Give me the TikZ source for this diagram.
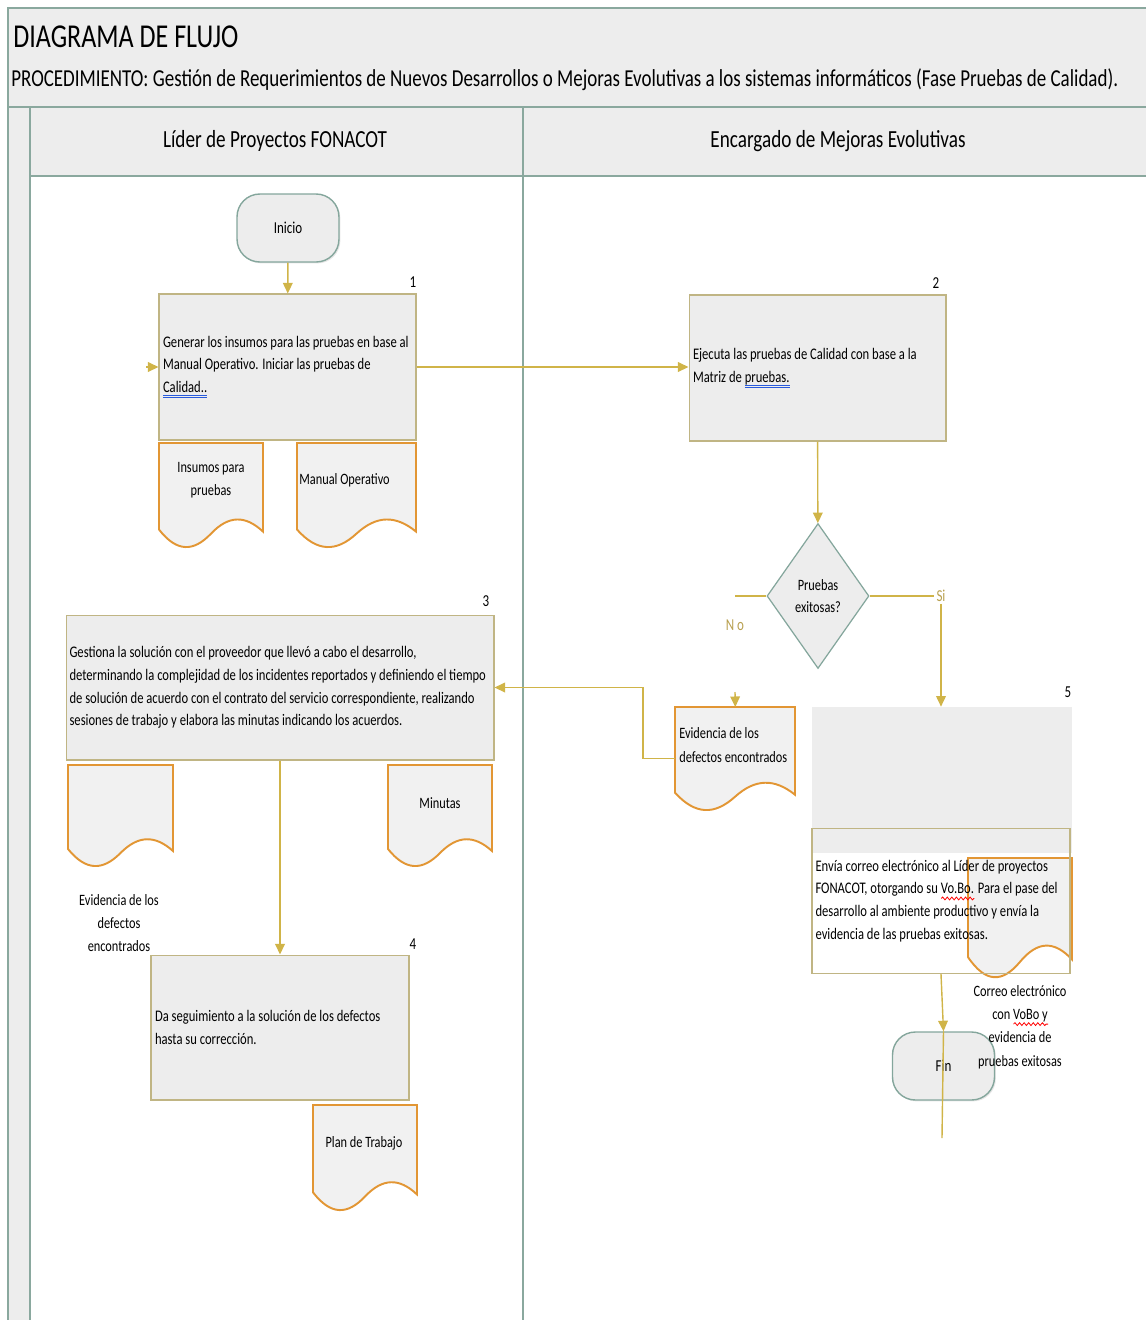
\documentclass[tikz,border=0pt]{standalone}
\usepackage{fontspec}
\setmainfont[FakeStretch=0.78]{Carlito}
\usepackage{xcolor}
\usepackage{tikz}
\usetikzlibrary{
  arrows.meta,
  shapes.geometric,
  shadows,
  decorations.pathmorphing
}

\definecolor{marco}{RGB}{138,168,158}
\definecolor{gris}{RGB}{237,237,237}
\definecolor{flujo}{RGB}{208,180,72}
\definecolor{pasoborde}{RGB}{192,181,132}
\definecolor{hojaborde}{RGB}{226,150,52}
\definecolor{terminalborde}{RGB}{132,166,156}
\definecolor{etiqueta}{RGB}{184,160,80}
\definecolor{azulvinc}{RGB}{40,90,220}

% subrayado doble azul (hipervínculo) y ondulado rojo (ortografía)
\newcommand{\vinculo}[1]{\leavevmode\setbox0=\hbox{#1}\rlap{\textcolor{azulvinc}{\rule[-2pt]{\wd0}{0.45pt}}}\rlap{\textcolor{azulvinc}{\rule[-3.1pt]{\wd0}{0.45pt}}}\box0}
\newdimen\anchoorto
\newcommand{\ortografia}[1]{\leavevmode\settowidth{\anchoorto}{#1}\rlap{\tikz[baseline=0pt, x=1pt, y=1pt]
  \draw[red, line width=0.45pt, decorate, decoration={snake, amplitude=0.8pt, segment length=2.6pt}]
  (0,-2.6) -- (\anchoorto,-2.6);}#1}
% espacios naturales de la fuente dentro de los recuadros
\newcommand{\espacio}{\spaceskip=0pt\xspaceskip=0pt\relax}

\newcommand{\pasofont}{\fontsize{9.2}{13}\selectfont}

% hoja de documento con borde ondulado: nombre, x, y, ancho, alto
\newcommand{\hoja}[5]{%
  \node[hojamarco, minimum width=#4*0.02cm, minimum height=#5*0.02cm, anchor=north west] (#1) at (#2,#3) {};
  \filldraw[hojalinea] (#2,#3) -- (#2,#3+0.84*#5)
    .. controls (#2+0.17*#4,#3+1.06*#5) and (#2+0.33*#4,#3+1.06*#5) .. (#2+0.5*#4,#3+0.88*#5)
    .. controls (#2+0.67*#4,#3+0.70*#5) and (#2+0.83*#4,#3+0.70*#5) .. (#2+#4,#3+0.86*#5)
    -- (#2+#4,#3) -- cycle;
}

\tikzset{
  marcolinea/.style={draw=marco, line width=0.75pt},
  terminal/.style={rectangle, rounded corners=13pt, draw=terminalborde, line width=0.8pt,
    fill=gris, minimum width=2.04cm, minimum height=1.36cm, font=\fontsize{9.5}{12}\selectfont,
    drop shadow={shadow xshift=0.8pt, shadow yshift=-0.8pt, opacity=0.2}},
  paso/.style={rectangle, draw=pasoborde, line width=0.6pt, fill=gris, align=left,
    inner xsep=2pt, font=\pasofont,
    drop shadow={shadow xshift=0.8pt, shadow yshift=-0.8pt, opacity=0.2}},
  decision/.style={diamond, draw=terminalborde, line width=0.7pt, fill=gris, aspect=0.7,
    inner sep=0pt, minimum width=2.04cm, minimum height=2.9cm, align=center,
    font=\fontsize{9}{12.5}\selectfont},
  hojamarco/.style={rectangle, draw=none, inner sep=0pt},
  hojalinea/.style={draw=hojaborde, line width=1.1pt, fill=gris!80!white},
  texto/.style={inner sep=0pt, font=\fontsize{9}{13.3}\selectfont},
  numero/.style={inner sep=0pt, font=\fontsize{9.5}{12}\selectfont},
  flujo/.style={draw=flujo, line width=0.8pt, -{Triangle[width=5.5pt,length=6pt]}},
  flujosin/.style={draw=flujo, line width=0.8pt},
  rama/.style={inner sep=1pt, text=etiqueta, font=\fontsize{9.5}{12}\selectfont}
}

\begin{document}
\begin{tikzpicture}[x=0.02cm, y=-0.02cm]
    \useasboundingbox (0,0) rectangle (1146,1320);

    % 1. Encabezado y carriles
    \fill[gris] (8,8) rectangle (1146,107);
    \fill[gris] (30,107) rectangle (1146,176);
    \fill[gris] (8,107) rectangle (30,1320);
    \draw[marcolinea] (1146,8) -- (8,8) -- (8,1320);
    \draw[marcolinea] (8,107) -- (1146,107);
    \draw[marcolinea] (30,176) -- (1146,176);
    \draw[marcolinea] (30,107) -- (30,1320);
    \draw[marcolinea] (523,107) -- (523,1320);

    \node[anchor=west, inner sep=0pt, font=\fontsize{19}{22}\selectfont] (titulo) at (13,37) {DIAGRAMA DE FLUJO};
    \node[anchor=west, inner sep=0pt, font=\fontsize{13.85}{16}\selectfont] (procedimiento) at (11,80)
        {PROCEDIMIENTO: Gestión de Requerimientos de Nuevos Desarrollos o Mejoras Evolutivas a los sistemas informáticos (Fase Pruebas de Calidad).};
    \node[inner sep=0pt, font=\fontsize{14}{17}\selectfont] (carril1) at (275,141) {Líder de Proyectos FONACOT};
    \node[inner sep=0pt, font=\fontsize{14}{17}\selectfont] (carril2) at (838,141) {Encargado de Mejoras Evolutivas};

    % 2. Documentos (se dibujan antes que el texto)
    \hoja{insumos}{159}{443}{104}{103}
    \hoja{manual}{297}{443}{119}{103}
    \hoja{evidvacia}{68}{765}{105}{100}
    \hoja{minutas}{388}{765}{104}{100}
    \hoja{evid}{675}{707}{120}{102}
    \hoja{plan}{313}{1105}{104}{104}

    % 3. Actividades
    \node[terminal] (inicio) at (288,228) {Inicio};

    \node[paso, minimum width=5.14cm, minimum height=2.92cm, text width=4.98cm] (paso1) at (287.5,367)
        {\espacio Generar los insumos para las pruebas en base al\\Manual Operativo. Iniciar las pruebas de\\\vinculo{Calidad..}};
    \node[paso, minimum width=5.14cm, minimum height=2.92cm, text width=4.98cm] (paso2) at (817.5,368)
        {\espacio Ejecuta las pruebas de Calidad  con base a la\\Matriz de \vinculo{pruebas.}};
    \node[decision] (decide) at (818,596) {Pruebas\\exitosas?};
    \node[paso, minimum width=8.56cm, minimum height=2.9cm, text width=8.42cm] (paso3) at (280,687.5)
        {\espacio Gestiona la solución con el proveedor que llevó a cabo el desarrollo,\\determinando la complejidad de los incidentes reportados y definiendo el tiempo\\de solución de acuerdo con el contrato del servicio correspondiente, realizando\\sesiones de trabajo y elabora las minutas indicando los acuerdos.};
    \node[paso, minimum width=5.16cm, minimum height=2.9cm, text width=5.0cm] (paso4) at (280,1027.5)
        {\espacio Da seguimiento a la solución de los defectos\\hasta su corrección.};

    % paso 5: franja gris superior, documento y recuadro con texto
    \node[rectangle, fill=gris, minimum width=5.2cm, minimum height=2.92cm, inner sep=0pt] (paso5) at (942,780) {};
    \hoja{correo}{968}{858}{104}{118}
    \node[rectangle, draw=pasoborde, line width=0.6pt, minimum width=5.16cm, minimum height=2.9cm,
          text width=5.02cm, align=left, inner xsep=2pt, font=\pasofont] (paso5b) at (941,901)
        {\espacio Envía correo electrónico al Líder de proyectos\\FONACOT, otorgando su \ortografia{Vo.Bo.} Para el pase del\\desarrollo al ambiente productivo y envía la\\evidencia de las pruebas exitosas.};
    \node[terminal] (fin) at (943.5,1066) {Fin};

    % 4. Números de actividad
    \node[numero] (n1) at (413,282) {1};
    \node[numero] (n2) at (936,283) {2};
    \node[numero] (n3) at (486,601) {3};
    \node[numero] (n4) at (413,944) {4};
    \node[numero] (n5) at (1068,692) {5};

    % 5. Textos de documentos
    \node[texto, align=center] (tinsumos) at (211,480) {Insumos para\\pruebas};
    \node[texto, anchor=west] (tmanual) at (299,480) {Manual Operativo};
    \node[texto] (tminutas) at (440,803) {Minutas};
    \node[texto, anchor=west, align=left] (tevid) at (679,745) {Evidencia de los\\defectos encontrados};
    \node[texto] (tplan) at (364,1143) {Plan de Trabajo};
    \node[texto, align=center] (tevidvacia) at (119,923) {Evidencia de los\\defectos\\encontrados};
    \node[texto, align=center] (tcorreo) at (1020,1027) {Correo electrónico\\con \ortografia{VoBo y}\\evidencia de\\pruebas exitosas};

    % 6. Conectores
    \coordinate (entrada) at (146,367);
    \coordinate (nocodo) at (735,596);
    \coordinate (nollega) at (735,692);
    \coordinate (finext) at (942,1138);
    \node[rama] (si) at (941,596) {Si};
    \node[rama] (no) at (735,625) {N\,o};

    \draw[flujo] (entrada) -- (paso1.west);
    \draw[flujo] (inicio) -- (paso1);
    \draw[flujo] (paso1.east) -- (paso2.west |- paso1.east);
    \draw[flujo] (paso2) -- (decide);
    \draw[flujosin] (decide.east) -- (si.west);
    \draw[flujo] (si.south) -- (si.south |- paso5.north);
    \draw[flujosin] (decide.west) -- (decide.west -| nocodo);
    \draw[flujo] (nollega) -- (evid.north);
    \draw[flujo] (evid.west) -- ++(-32,0) |- (paso3.east);
    \draw[flujo] (paso3) -- (paso4);
    \draw[flujo] (paso5b.south) -- (fin.north);
    \draw[flujosin] (fin.north) -- (finext);
\end{tikzpicture}
\end{document}
